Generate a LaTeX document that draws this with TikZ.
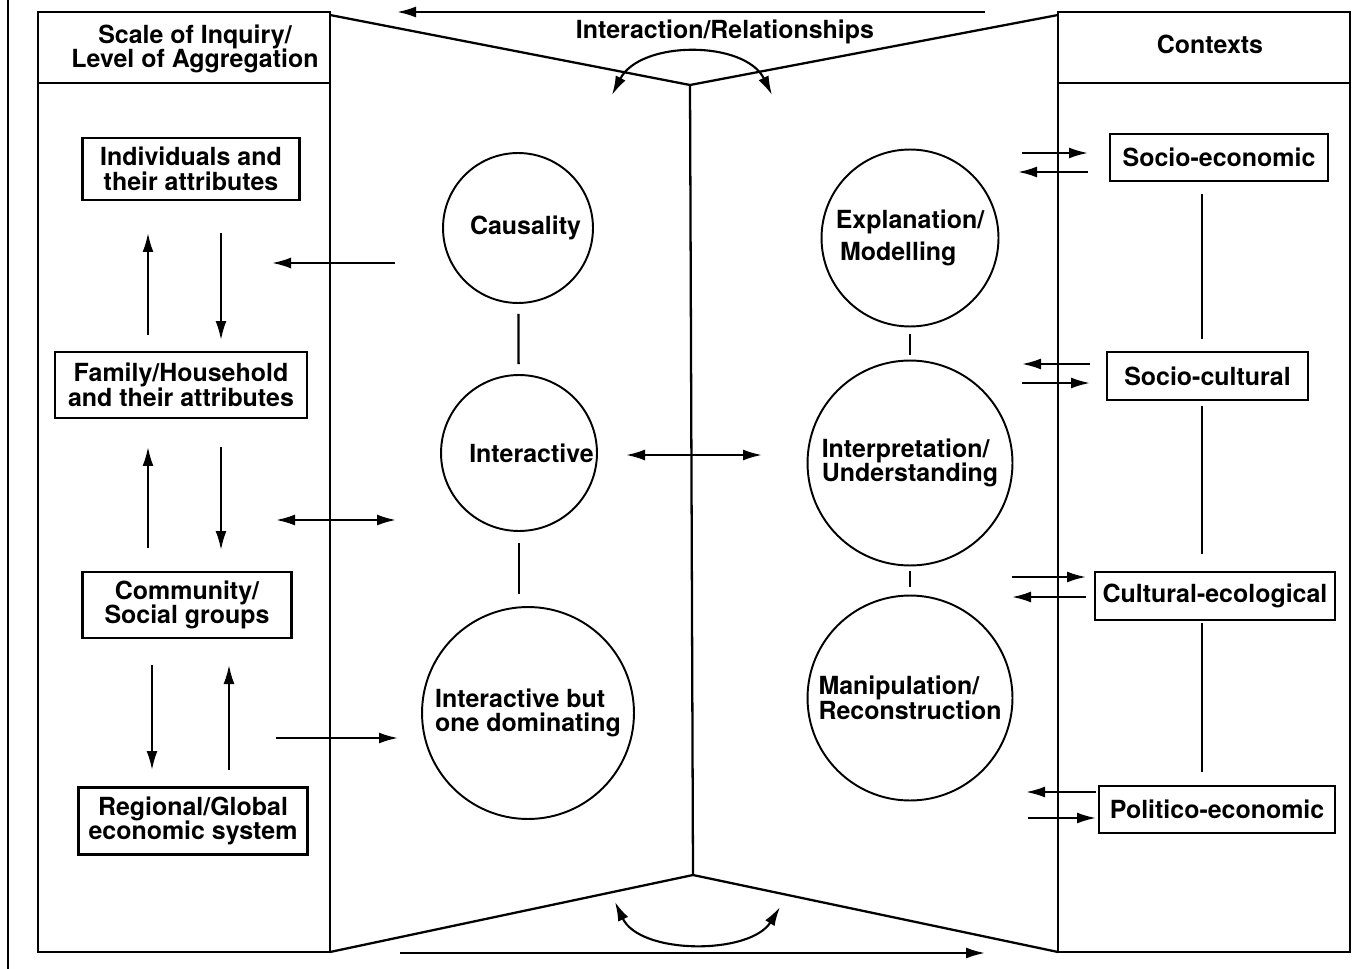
\documentclass[tikz,border=0pt]{standalone}
\usepackage{fontspec}
\setmainfont{TeX Gyre Heros}
\usetikzlibrary{arrows,arrows.meta,positioning,calc}

\begin{document}
\begin{tikzpicture}[
  x=0.02cm, y=-0.02cm,
  font=\bfseries\fontsize{14.2}{14}\selectfont,
  >={Latex[length=3.8mm,width=2.2mm]},
  panel/.style={line width=1.3pt},
  arr/.style={->, line width=1.2pt},
  dbl/.style={<->, line width=1.2pt},
  box/.style={rectangle, draw, line width=1.2pt, align=center, inner sep=1pt},
  topic/.style={circle, draw, line width=1.1pt, align=left, inner sep=0pt}
]
\useasboundingbox (0,0) rectangle (1361,969);

% stray margin line
\draw[line width=0.8pt] (8,0) -- (8,969);

% side panels
\draw[panel] (38,12) rectangle (330,952);
\draw[panel] (38,83) -- (330,83);
\draw[panel] (1058,12) rectangle (1350,952);
\draw[panel] (1058,83) -- (1350,83);
\node[align=center] (scale) at (195,49) {Scale of Inquiry/\\Level of Aggregation};
\node (contexts) at (1210,44) {Contexts};

% fold in the middle
\coordinate (foldT) at (690,85);
\coordinate (foldB) at (693,875);
\draw[panel] (330,15) -- (foldT) -- (1058,15);
\draw[panel] (330,952) -- (foldB) -- (1058,952);
\draw[panel] (foldT) -- (foldB);
\node (relation) at (725,32) {Interaction/Relationships};

\coordinate (topR) at (985,12);
\coordinate (topL) at (397,12);
\draw[arr] (topR) -- (topL);
\coordinate (botL) at (400,953);
\coordinate (botR) at (985,953);
\draw[arr] (botL) -- (botR);

\coordinate (arcTL) at (612,95);
\coordinate (arcTR) at (772,95);
\draw[dbl] (arcTL) .. controls (640,40) and (745,40) .. (arcTR);
\coordinate (arcBL) at (615,902);
\coordinate (arcBR) at (780,907);
\draw[dbl] (arcBL) .. controls (640,955) and (750,955) .. (arcBR);

% levels of aggregation
\node[box, minimum width=4.34cm, minimum height=1.24cm] (indiv) at (191,169) {Individuals and\\their attributes};
\node[box, minimum width=5.04cm, minimum height=1.32cm] (family) at (181,385) {Family/Household\\and their attributes};
\node[box, minimum width=4.18cm, minimum height=1.32cm] (commun) at (187,605) {Community/\\Social groups};
\node[box, minimum width=4.58cm, minimum height=1.34cm] (region) at (193,821) {Regional/Global\\economic system};

\coordinate (up1s) at (148,335); \coordinate (up1e) at (148,233);
\coordinate (dn1s) at (221,233); \coordinate (dn1e) at (221,340);
\coordinate (up2s) at (148,548); \coordinate (up2e) at (148,447);
\coordinate (dn2s) at (221,447); \coordinate (dn2e) at (221,550);
\coordinate (dn3s) at (152,665); \coordinate (dn3e) at (152,770);
\coordinate (up3s) at (229,770); \coordinate (up3e) at (229,665);
\draw[arr] (up1s) -- (up1e);
\draw[arr] (dn1s) -- (dn1e);
\draw[arr] (up2s) -- (up2e);
\draw[arr] (dn2s) -- (dn2e);
\draw[arr] (dn3s) -- (dn3e);
\draw[arr] (up3s) -- (up3e);

% relationships
\node[topic, minimum size=3cm] (caus) at (518,228) {\hspace{0.3cm}Causality};
\node[topic, minimum size=3.12cm] (inter) at (519,453) {\hspace{0.5cm}Interactive};
\node[topic, minimum size=4.24cm] (domin) at (528,713) {Interactive but\\one dominating};
\draw[panel, shorten <=0.2cm, shorten >=0.2cm] (caus) -- (inter);
\draw[panel, shorten <=0.22cm, shorten >=0.24cm] (inter.south) -- (inter.south |- domin.north);

\coordinate (c1s) at (395,263); \coordinate (c1e) at (272,263);
\coordinate (c2s) at (276,520); \coordinate (c2e) at (396,520);
\coordinate (c3s) at (276,738); \coordinate (c3e) at (398,738);
\coordinate (c4s) at (626,455); \coordinate (c4e) at (762,455);
\draw[arr] (c1s) -- (c1e);
\draw[dbl] (c2s) -- (c2e);
\draw[arr] (c3s) -- (c3e);
\draw[dbl] (c4s) -- (c4e);

% ways of knowing
\node[topic, minimum size=3.54cm] (explan) at (910,238) {Explanation/\\[4pt]\,Modelling};
\node[topic, minimum size=4.1cm] (interp) at (910,463) {Interpretation/\\Understanding};
\node[topic, minimum size=4.1cm] (manip) at (910,698) {Manipulation/\\Reconstruction};
\draw[panel, shorten <=0.14cm, shorten >=0.1cm] (explan) -- (interp);
\draw[panel, shorten <=0.1cm, shorten >=0.16cm] (interp) -- (manip);

% contexts
\node[box, minimum width=4.36cm, minimum height=0.94cm] (soceco) at (1219,157.5) {Socio-economic};
\node[box, minimum width=4.02cm, minimum height=0.96cm] (soccul) at (1207.5,376) {Socio-cultural};
\node[box, minimum width=4.8cm, minimum height=0.96cm] (culeco) at (1215,596) {Cultural-ecological};
\node[box, minimum width=4.72cm, minimum height=0.94cm] (poleco) at (1217,809.5) {Politico-economic};

\coordinate (spine) at (1202,0);
\draw[panel, shorten <=0.24cm, shorten >=0.24cm] (soceco.south -| spine) -- (soccul.north -| spine);
\draw[panel, shorten <=0.1cm, shorten >=0.34cm] (soccul.south -| spine) -- (culeco.north -| spine);
\draw[panel, shorten <=0.04cm, shorten >=0.26cm] (culeco.south -| spine) -- (poleco.north -| spine);

\coordinate (k1s) at (1022,153); \coordinate (k1e) at (1088,153);
\coordinate (k2s) at (1088,172); \coordinate (k2e) at (1018,172);
\coordinate (k3s) at (1090,364); \coordinate (k3e) at (1022,364);
\coordinate (k4s) at (1022,383); \coordinate (k4e) at (1090,383);
\coordinate (k5s) at (1012,577); \coordinate (k5e) at (1086,577);
\coordinate (k6s) at (1086,597); \coordinate (k6e) at (1012,597);
\coordinate (k7s) at (1096,792); \coordinate (k7e) at (1026,792);
\coordinate (k8s) at (1028,818); \coordinate (k8e) at (1096,818);
\draw[arr] (k1s) -- (k1e);
\draw[arr] (k2s) -- (k2e);
\draw[arr] (k3s) -- (k3e);
\draw[arr] (k4s) -- (k4e);
\draw[arr] (k5s) -- (k5e);
\draw[arr] (k6s) -- (k6e);
\draw[arr] (k7s) -- (k7e);
\draw[arr] (k8s) -- (k8e);

\end{tikzpicture}
\end{document}
